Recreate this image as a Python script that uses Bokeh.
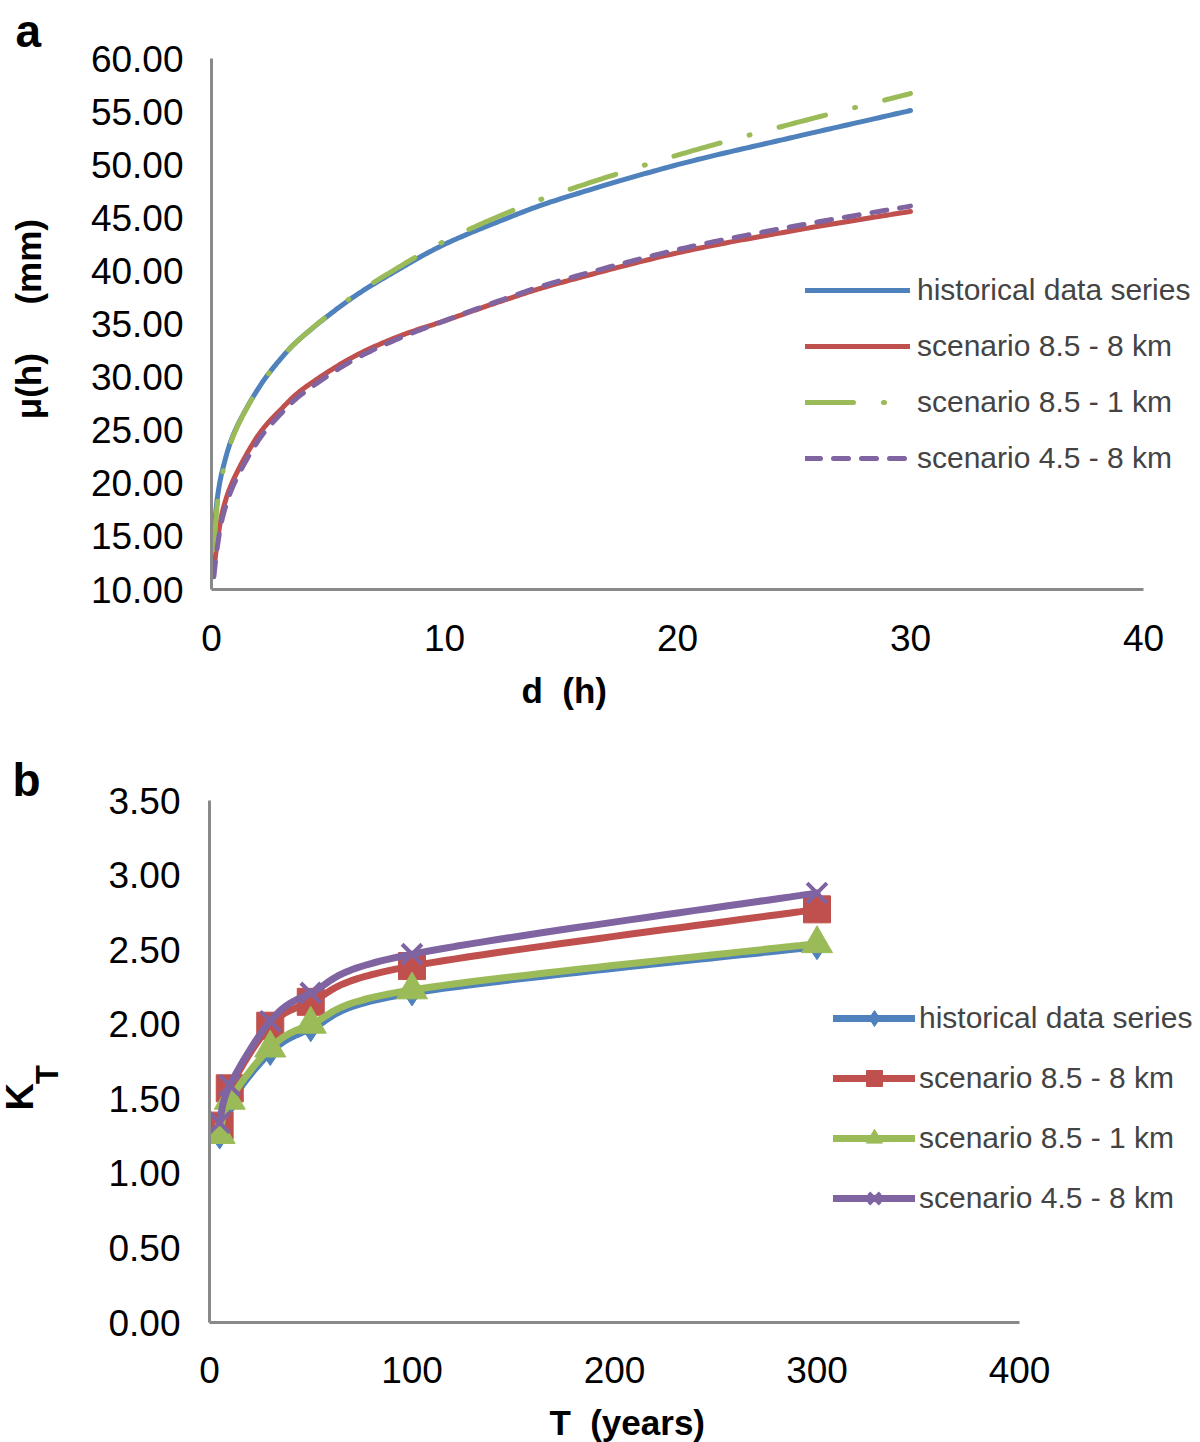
import numpy as np
from bokeh.plotting import figure
from bokeh.models import (Range1d, FixedTicker, NumeralTickFormatter, Legend,
                          LegendItem, Title)
from bokeh.embed import file_html
from bokeh.resources import INLINE

# ---------------- data: panel a ----------------
d_hours = [0.1, 0.25, 0.5, 1, 2, 3, 4, 6, 8, 10, 12.5, 15, 20, 25, 30]
mu_hist = [15.2, 18.6, 21.5, 24.9, 28.9, 31.8, 34.0, 37.4, 40.1, 42.5, 44.8, 46.8, 50.0, 52.6, 55.1]
mu_85_8 = [11.8, 14.5, 17.6, 20.6, 24.5, 27.0, 29.0, 31.8, 33.8, 35.3, 37.2, 38.9, 41.7, 43.8, 45.6]
mu_85_1 = [13.8, 18.0, 21.2, 24.8, 28.9, 31.8, 34.0, 37.5, 40.3, 42.8, 45.3, 47.4, 50.9, 53.9, 56.7]
mu_45_8 = [11.2, 14.0, 17.0, 20.1, 24.0, 26.6, 28.6, 31.5, 33.6, 35.3, 37.3, 39.1, 42.0, 44.2, 46.1]
a_x_ticks = [0, 10, 20, 30, 40]
a_y_ticks = [10, 15, 20, 25, 30, 35, 40, 45, 50, 55, 60]

# ---------------- data: panel b ----------------
T_years = [5, 10, 30, 50, 100, 300]
kt_hist = [1.25, 1.47, 1.81, 1.97, 2.21, 2.52]
kt_85_8 = [1.32, 1.57, 1.99, 2.15, 2.39, 2.77]
kt_85_1 = [1.26, 1.49, 1.84, 2.00, 2.23, 2.54]
kt_45_8 = [1.34, 1.59, 2.02, 2.21, 2.47, 2.88]
b_x_ticks = [0, 100, 200, 300, 400]
b_y_ticks = [0, 0.5, 1.0, 1.5, 2.0, 2.5, 3.0, 3.5]

labels = ["historical data series", "scenario 8.5 - 8 km",
          "scenario 8.5 - 1 km", "scenario 4.5 - 8 km"]
BLUE, RED, GREEN, PURPLE = "#4F81BD", "#C0504D", "#9BBB59", "#8064A2"
FONT = "Liberation Sans"
AXIS_GRAY = "#898989"
NB = "\u00a0"


def smooth(xs, ys, sx, sy, n=30):
    """Excel-style smoothed line (Catmull-Rom Bezier) drawn through the data points."""
    P = np.column_stack([np.asarray(xs, float) * sx, np.asarray(ys, float) * sy])
    P = np.vstack([P[0], P, P[-1]])
    outx, outy = [], []
    for i in range(1, len(P) - 2):
        p0, p1, p2, p3 = P[i - 1], P[i], P[i + 1], P[i + 2]
        c1 = p1 + (p2 - p0) / 6.0
        c2 = p2 - (p3 - p1) / 6.0
        t = np.linspace(0, 1, n)[:, None]
        B = ((1 - t) ** 3) * p1 + 3 * ((1 - t) ** 2) * t * c1 + 3 * (1 - t) * t ** 2 * c2 + t ** 3 * p2
        outx.extend(B[:, 0] / sx)
        outy.extend(B[:, 1] / sy)
    return outx, outy


def style_axes(p, xticks, yticks, xbounds, ybounds):
    for ax in (p.xaxis[0], p.yaxis[0]):
        ax.axis_line_color = AXIS_GRAY
        ax.axis_line_width = 3
        ax.major_tick_line_color = None
        ax.minor_tick_line_color = None
        ax.major_tick_out = 0
        ax.major_tick_in = 0
        ax.minor_tick_out = 0
        ax.minor_tick_in = 0
        ax.major_label_text_font = FONT
        ax.major_label_text_font_size = "37px"
        ax.major_label_text_color = "black"
        ax.axis_label_text_font = FONT
        ax.axis_label_text_font_size = "35px"
        ax.axis_label_text_font_style = "bold"
        ax.axis_label_text_color = "black"
    p.xaxis.ticker = FixedTicker(ticks=xticks)
    p.yaxis.ticker = FixedTicker(ticks=yticks)
    p.xaxis.bounds = xbounds
    p.yaxis.bounds = ybounds
    p.yaxis.formatter = NumeralTickFormatter(format="0.00")
    p.xgrid.visible = False
    p.ygrid.visible = False
    p.outline_line_color = None


def letter_title(p, text, offset, standoff):
    p.title.text = text
    p.title.text_font = FONT
    p.title.text_font_size = "46px"
    p.title.text_font_style = "bold"
    p.title.text_color = "black"
    p.title.align = "left"
    p.title.offset = offset
    p.title.vertical_align = "bottom"
    p.title.standoff = standoff


# ================= panel a =================
SXA, SYA = 23.3, 10.62                # px per unit (frame: 0..40 over 932 px)
FWA = 989                              # frame reaches the right edge of the canvas
pa = figure(frame_width=FWA, frame_height=531, output_backend="svg", toolbar_location=None,
            x_range=Range1d(0, FWA / SXA), y_range=Range1d(10, 60),
            min_border_left=211, min_border_right=0, min_border_top=58, min_border_bottom=151)
style_axes(pa, a_x_ticks, a_y_ticks, (0, 40), (10, 60))
pa.yaxis.axis_label = NB + "μ(h)" + NB * 5 + "(mm)"
pa.xaxis.major_label_standoff = 35
pa.yaxis.major_label_standoff = 28
pa.yaxis.axis_label_standoff = 40
letter_title(pa, "a", -196, 3)
pa.add_layout(Title(text="d" + NB * 2 + "(h)", text_font=FONT, text_font_size="35px",
                    text_font_style="bold", text_color="black", align="left", offset=310,
                    vertical_align="top", standoff=34), "below")

ra = []
for ys, col, dash in [(mu_hist, BLUE, "solid"), (mu_85_8, RED, "solid"),
                      (mu_85_1, GREEN, "48 30 1 30"), (mu_45_8, PURPLE, "15 13")]:
    xx, yy = smooth(d_hours, ys, SXA, SYA)
    r = pa.line(xx, yy, line_color=col, line_width=5, line_dash=dash, line_cap="round")
    ra.append(r)

leg_a = Legend(items=[LegendItem(label=l, renderers=[r]) for l, r in zip(labels, ra)],
               location=(594, 111), glyph_width=105, glyph_height=40, label_height=40,
               spacing=16, padding=0, margin=0, label_standoff=7,
               border_line_color=None, background_fill_alpha=0,
               label_text_font=FONT, label_text_font_size="30px")
pa.add_layout(leg_a)

# ================= panel b =================
SXB, SYB = 2.025, 149.1
FWB = 991
pb = figure(frame_width=FWB, frame_height=522, output_backend="svg", toolbar_location=None,
            x_range=Range1d(0, FWB / SXB), y_range=Range1d(0, 3.5),
            min_border_left=209, min_border_right=0, min_border_top=60, min_border_bottom=120)
style_axes(pb, b_x_ticks, b_y_ticks, (0, 400), (0, 3.5))
# trailing no-break spaces move the centred label to where the reference has it
pb.xaxis.axis_label = "T" + NB * 2 + "(years)" + NB * 16
pb.xaxis.major_label_standoff = 34
pb.xaxis.axis_label_standoff = 17
pb.yaxis.major_label_standoff = 29
pb.yaxis.axis_label = "T" + NB * 3
pb.yaxis.axis_label_text_font_size = "31px"
pb.yaxis.axis_label_standoff = 40
letter_title(pb, "b", -197, -10)
pb.add_layout(Title(text="K", text_font=FONT, text_font_size="38px", text_font_style="bold",
                    text_color="black", align="left", offset=212,
                    vertical_align="bottom", standoff=-26), "left")

rb = []
for ys, col, marker, size in [(kt_hist, BLUE, "diamond", 26), (kt_85_8, RED, "square", 27),
                              (kt_85_1, GREEN, "triangle", 31), (kt_45_8, PURPLE, "x", 28)]:
    xx, yy = smooth(T_years, ys, SXB, SYB)
    rl = pb.line(xx, yy, line_color=col, line_width=7, line_cap="round")
    if marker == "x":
        rs = pb.scatter(T_years, ys, marker=marker, size=size, line_color=col, line_width=4)
    else:
        rs = pb.scatter(T_years, ys, marker=marker, size=size, fill_color=col, line_color=col)
    rb.append([rl, rs])

leg_b = Legend(items=[LegendItem(label=l, renderers=r) for l, r in zip(labels, rb)],
               location=(624, 104), glyph_width=82, glyph_height=40, label_height=40,
               spacing=20, padding=0, margin=0, label_standoff=4,
               border_line_color=None, background_fill_alpha=0,
               label_text_font=FONT, label_text_font_size="30px")
pb.add_layout(leg_b)

open("out.html", "w").write(file_html([pa, pb], INLINE))
